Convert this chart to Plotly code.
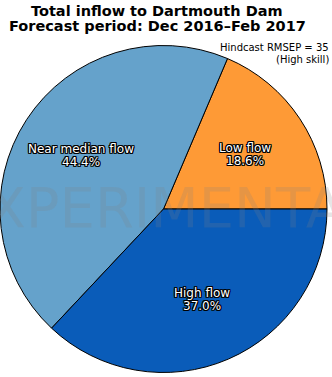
import math
import plotly.graph_objects as go

categories = ["Low flow", "Near median flow", "High flow"]
values = [18.6, 44.4, 37.0]
colors = ["#fe9a36", "#65a2cb", "#0a5cb9"]
title_lines = ["Total inflow to Dartmouth Dam", "Forecast period: Dec 2016\u2013Feb 2017"]
skill_lines = ["Hindcast RMSEP = 35", "(High skill)"]
watermark = "EXPERIMENTAL"

W, H = 332, 377
cx, cy, R = 163.5, 209.0, 163.5  # pie centre/radius in pixels
total = sum(values)

# plotly: with counterclockwise direction the first slice ENDS at `rotation`
rotation = 90 - values[0] / total * 360.0

fig = go.Figure(go.Pie(
    labels=categories, values=values, sort=False, direction="counterclockwise",
    rotation=rotation, marker=dict(colors=colors, line=dict(color="black", width=1)),
    textinfo="none", hoverinfo="label+percent", showlegend=False,
    domain=dict(x=[(cx - R) / W, (cx + R) / W], y=[1 - (cy + R) / H, 1 - (cy - R) / H]),
))


def txt(x_px, y_px, text, size, color="black", xanchor="center", bold=False, shadow=None):
    f = dict(family="DejaVu Sans", size=size, color=color)
    if shadow:
        f["shadow"] = shadow
    fig.add_annotation(x=x_px / W, y=1 - y_px / H, xref="paper", yref="paper",
                       xanchor=xanchor, yanchor="middle", showarrow=False,
                       text=f"<b>{text}</b>" if bold else text, font=f)


shadow = ("1px 1px 0 black, -1px -1px 0 black, 1px -1px 0 black, -1px 1px 0 black, "
          "0 1px 0 black, 0 -1px 0 black, 1px 0 0 black, -1px 0 0 black")

# watermark (drawn first so slice labels sit above it)
txt(cx, 207, watermark, 56, color="rgba(128,128,128,0.2)")

cum = 0.0
for lab, v in zip(categories, values):
    mid = (cum + v / 2) / total * 360.0
    cum += v
    a = math.radians(mid)
    px = cx + 0.6 * R * math.cos(a)
    py = cy - 0.6 * R * math.sin(a)
    txt(px, py - 6.5, lab, 12, color="white", shadow=shadow)
    txt(px, py + 6.5, f"{v / total * 100:.1f}%", 12, color="white", shadow=shadow)

txt(331, 47, skill_lines[0], 10, xanchor="right")
txt(331, 59, skill_lines[1], 10, xanchor="right")

txt(157, 11, title_lines[0], 14.5, bold=True)
txt(157, 25.5, title_lines[1], 14.5, bold=True)

fig.update_layout(width=W, height=H, margin=dict(l=0, r=0, t=0, b=0),
                  paper_bgcolor="white", plot_bgcolor="white")
fig.write_html("out.html", config={"displayModeBar": False},
               post_script="document.body.style.margin='0';")
